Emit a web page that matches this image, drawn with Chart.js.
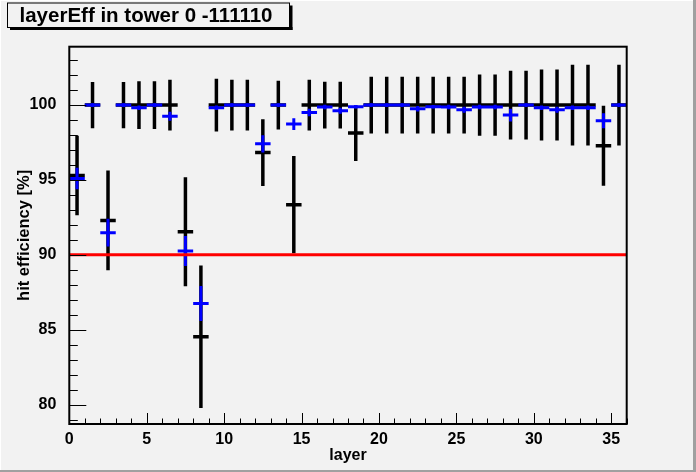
<!DOCTYPE html>
<html><head><meta charset="utf-8">
<script src="https://cdn.jsdelivr.net/npm/chart.js@4.4.0/dist/chart.umd.min.js"></script>
<style>html,body{margin:0;padding:0;background:#f2f2f2;overflow:hidden;} canvas{display:block;}</style>
</head><body>
<canvas id="c" width="696" height="472"></canvas>
<script>
// ---- data ----
const layers = [0,1,2,3,4,5,6,7,8,9,10,11,12,13,14,15,16,17,18,19,20,21,22,23,24,25,26,27,28,29,30,31,32,33,34,35];
const effBlack = [95.3,100,92.3,100,100,100,100,91.54,84.53,100,100,100,96.83,100,93.35,100,100,100,98.13,100,100,100,100,100,100,100,100,100,100,100,100,100,100,100,97.28,100];
const errBlack = [2.65,1.55,3.33,1.55,1.6,1.6,1.7,3.64,4.76,1.76,1.7,1.7,2.23,1.63,3.25,1.7,1.56,1.56,1.86,1.9,1.9,1.9,1.9,1.9,1.9,1.9,2.04,2.04,2.3,2.3,2.37,2.37,2.7,2.7,2.67,2.7];
const effBlue = [95.1,100,91.48,100,99.82,100,99.26,90.26,86.75,99.82,100,100,97.41,100,98.73,99.51,99.87,99.62,99.89,100,100,100,99.76,99.89,99.87,99.69,99.87,99.87,99.33,100,99.82,99.69,99.82,99.82,98.95,100];
const errBlue = [0.72,0.12,0.93,0.12,0.15,0.12,0.3,1.0,1.17,0.15,0.12,0.12,0.57,0.12,0.39,0.25,0.15,0.2,0.12,0.12,0.12,0.12,0.18,0.12,0.15,0.2,0.15,0.15,0.42,0.12,0.15,0.2,0.15,0.15,0.5,0.12];
const threshold = 90;
const xTickLabels = [0,5,10,15,20,25,30,35];
const yTickLabels = [80,85,90,95,100];
const titleText = 'layerEff in tower 0 -111110';
const xTitle = 'layer';
const yTitle = 'hit efficiency [%]';

// ---- build line-segment tables for the library ----
function hSegs(eff){const d=[];layers.forEach((l,i)=>{d.push({x:l,y:eff[i]},{x:l+1,y:eff[i]},{x:l+1,y:null});});return d;}
function vSegs(eff,err){const d=[];layers.forEach((l,i)=>{const c=l+0.5;d.push({x:c,y:eff[i]-err[i]},{x:c,y:eff[i]+err[i]},{x:c,y:null});});return d;}

const BG = '#f2f2f2';
const FONT = "'Liberation Sans', Arial, Helvetica, sans-serif";

const rootDecor = {
  id: 'rootDecor',
  beforeDraw(chart){
    const ctx = chart.ctx, W = chart.width, H = chart.height;
    ctx.save();
    ctx.fillStyle = BG; ctx.fillRect(0,0,W,H);
    ctx.fillStyle = '#a0a0a0';
    ctx.fillRect(W-3,0,3,H); ctx.fillRect(0,H-2,W,2);
    ctx.fillStyle = '#ffffff';
    ctx.fillRect(0,0,W-3,1); ctx.fillRect(0,0,1,H-2);
    ctx.restore();
  },
  afterDatasetsDraw(chart){
    const ctx = chart.ctx, a = chart.chartArea;
    const xs = chart.scales.x, ys = chart.scales.y;
    ctx.save();
    ctx.strokeStyle = '#000'; ctx.lineWidth = 1;
    ctx.beginPath();
    for(let v=Math.ceil(ys.min); v<=Math.floor(ys.max); v++){
      const p = Math.round(ys.getPixelForValue(v))+0.5;
      const L = (v%5===0)?17:8.5;
      ctx.moveTo(a.left,p); ctx.lineTo(a.left+L,p);
    }
    for(let v=Math.ceil(xs.min); v<=Math.floor(xs.max); v++){
      const p = Math.round(xs.getPixelForValue(v))+0.5;
      const L = (v%5===0)?11:5.5;
      ctx.moveTo(p,a.bottom); ctx.lineTo(p,a.bottom-L);
    }
    ctx.stroke();
    ctx.lineWidth = 2;
    ctx.strokeRect(a.left,a.top,a.right-a.left,a.bottom-a.top);
    ctx.restore();
  },
  afterDraw(chart){
    const ctx = chart.ctx;
    ctx.save();
    // title box with shadow
    ctx.fillStyle = '#000';
    ctx.fillRect(10,27,282.5,3);
    ctx.fillRect(289.5,5.5,3,24.5);
    ctx.fillStyle = BG;
    ctx.fillRect(7.5,3,282,24.5);
    ctx.strokeStyle = '#000'; ctx.lineWidth = 1;
    ctx.strokeRect(7.5,3,282,24.5);
    ctx.fillStyle = '#000';
    ctx.font = "bold 20.5px " + FONT;
    ctx.textBaseline = 'alphabetic';
    ctx.textAlign = 'left';
    ctx.fillText(titleText, 19.5, 21.5);
    ctx.restore();
  }
};

new Chart(document.getElementById('c'), {
  type: 'scatter',
  data: {
    datasets: [
      {label:'threshold', data:[{x:0,y:threshold},{x:36,y:threshold}], showLine:true, borderColor:'#ff0000', borderWidth:3, pointRadius:0, order:1},
      {label:'blue h', data:hSegs(effBlue), showLine:true, spanGaps:false, borderColor:'#0000ff', borderWidth:3, borderCapStyle:'butt', pointRadius:0, order:2},
      {label:'blue v', data:vSegs(effBlue,errBlue), showLine:true, spanGaps:false, borderColor:'#0000ff', borderWidth:3, borderCapStyle:'butt', pointRadius:0, order:2},
      {label:'black h', data:hSegs(effBlack), showLine:true, spanGaps:false, borderColor:'#000000', borderWidth:3.5, borderCapStyle:'butt', pointRadius:0, order:3},
      {label:'black v', data:vSegs(effBlack,errBlack), showLine:true, spanGaps:false, borderColor:'#000000', borderWidth:3.5, borderCapStyle:'butt', pointRadius:0, order:3}
    ]
  },
  options: {
    responsive:false, animation:false, devicePixelRatio:1,
    layout:{padding:{top:46.7,right:69.3,left:0,bottom:0}},
    plugins:{legend:{display:false}, tooltip:{enabled:false}, title:{display:false}},
    elements:{line:{tension:0}},
    scales:{
      x:{type:'linear', min:0, max:36,
        grid:{display:false}, border:{display:false},
        afterBuildTicks(s){ s.ticks = xTickLabels.map(v=>({value:v})); },
        afterFit(s){ s.height = 48; },
        ticks:{color:'#000', padding:-2, font:{family:FONT, weight:'bold', size:16}, maxRotation:0, autoSkip:false},
        title:{display:true, text:xTitle, color:'#000', font:{family:FONT, weight:'bold', size:16}, padding:{top:0,bottom:7}}
      },
      y:{type:'linear', min:78.7, max:103.9,
        grid:{display:false}, border:{display:false},
        afterBuildTicks(s){ s.ticks = yTickLabels.map(v=>({value:v})); },
        afterFit(s){ s.width = 69.3; },
        ticks:{color:'#000', padding:5, font:{family:FONT, weight:'bold', size:16}, autoSkip:false},
        title:{display:true, text:yTitle, color:'#000', font:{family:FONT, weight:'bold', size:16.5}, padding:{top:15,bottom:0}}
      }
    }
  },
  plugins:[rootDecor]
});
</script>
</body></html>
